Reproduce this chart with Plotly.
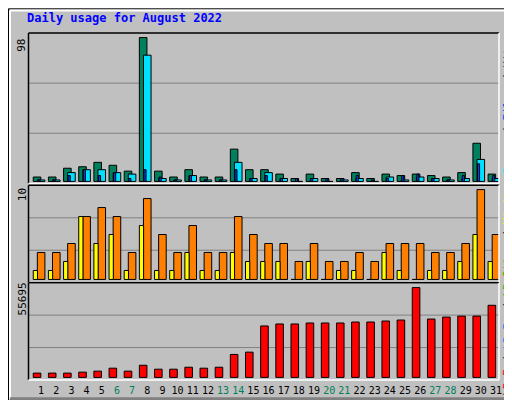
import plotly.graph_objects as go

days = list(range(1, 32))
weekend = [6, 7, 13, 14, 20, 21, 27, 28]
hits = [3,3,9,10,13,11,7,98,7,3,8,3,3,22,8,8,5,2,5,2,2,6,2,5,4,5,4,3,6,26,5]
pages = [1,1,6,8,8,6,5,86,2,1,4,1,1,13,2,6,2,0,2,0,1,2,0,3,1,3,2,1,2,15,2]
files = [1,1,4,8,4,6,2,8,3,1,4,1,1,8,2,4,2,2,2,2,2,4,1,2,4,5,2,1,4,12,4]
sites = [3,3,4,7,8,7,3,9,5,3,6,3,3,7,5,4,4,2,4,2,2,3,2,4,4,4,3,3,4,10,5]
visits = [1,1,2,7,4,5,1,6,1,1,3,1,1,3,2,2,2,0,2,0,1,1,0,3,1,0,1,1,2,5,2]
kbytes = [2640,2640,2640,3250,3860,5690,3860,7520,5080,5080,6300,5690,6300,14230,15650,
          31910,33130,33130,33740,33740,33740,34350,34350,34960,35570,55695,36180,37400,38010,38010,44720]

W, H = 512, 400
L, R, T, B = 21, 21, 25, 22
PW, PH = W - L - R, H - T - B
def xp(px): return (px - L) / PW
def yp(py): return (H - B - py) / PH

C_HITS, C_FILES, C_PAGES = "#00805C", "#0040FF", "#00E0FF"
C_SITES, C_VISITS, C_KB = "#FF8000", "#FFFF00", "#FF0000"
FONT = "DejaVu Sans Mono"

fig = go.Figure()
line = dict(color="black", width=1)
def bar(y, color, off, wid, xa, ya):
    fig.add_trace(go.Bar(x=days, y=y, marker=dict(color=color, line=line),
                         offset=off, width=wid, xaxis=xa, yaxis=ya, showlegend=False))

bar(hits, C_HITS, -0.52, 0.5, "x", "y")
bar(pages, C_PAGES, -0.25, 0.5, "x", "y")
bar(files, C_FILES, -0.22, 0.14, "x", "y")
bar(sites, C_SITES, -0.25, 0.5, "x2", "y2")
bar(visits, C_VISITS, -0.52, 0.28, "x2", "y2")
bar(kbytes, C_KB, -0.52, 0.5, "x3", "y3")

ticktext = [f'<span style="color:{C_HITS}">{d}</span>' if d in weekend else str(d) for d in days]
xcommon = dict(range=[0.2, 31.2], showgrid=False, zeroline=False, showline=False)
dom = {"": [yp(178), yp(25)], "2": [yp(279), yp(180)], "3": [yp(378), yp(279)]}
fig.update_layout(
    width=W, height=H, margin=dict(l=L, r=R, t=T, b=B),
    paper_bgcolor="#C0C0C0", plot_bgcolor="#C0C0C0", barmode="overlay",
    font=dict(family=FONT, size=11, color="black"),
    xaxis=dict(**xcommon, anchor="y", showticklabels=False),
    xaxis2=dict(**xcommon, anchor="y2", showticklabels=False, matches="x"),
    xaxis3=dict(**xcommon, anchor="y3", tickvals=days, ticktext=ticktext, ticks="",
                tickangle=0, ticklabelstandoff=3, tickfont=dict(family=FONT, size=10)),
    yaxis=dict(domain=dom[""], range=[-1.34, 101.1], showticklabels=False, showgrid=False, zeroline=False),
    yaxis2=dict(domain=dom["2"], range=[-0.36, 10.47], showticklabels=False, showgrid=False, zeroline=False),
    yaxis3=dict(domain=dom["3"], range=[-1626, 58744], showticklabels=False, showgrid=False, zeroline=False),
)

shapes = []
shapes.append(dict(type="rect", xref="paper", yref="paper", x0=xp(0.5), x1=xp(511.5), y0=yp(399.5), y1=yp(0.5),
                   line=dict(color="black", width=1), layer="below"))
shapes.append(dict(type="line", xref="paper", yref="paper", x0=xp(2), x1=xp(2), y0=yp(397), y1=yp(2), line=dict(color="white", width=2), layer="below"))
shapes.append(dict(type="line", xref="paper", yref="paper", x0=xp(2), x1=xp(509), y0=yp(2), y1=yp(2), line=dict(color="white", width=2), layer="below"))
shapes.append(dict(type="line", xref="paper", yref="paper", x0=xp(509), x1=xp(509), y0=yp(397), y1=yp(2), line=dict(color="#808080", width=3), layer="below"))
shapes.append(dict(type="line", xref="paper", yref="paper", x0=xp(2), x1=xp(509), y0=yp(397), y1=yp(397), line=dict(color="#808080", width=3), layer="below"))
for ax, (top, bot) in {"": (25, 178), "2": (180, 279), "3": (279, 378)}.items():
    for f in (1/3, 2/3):
        shapes.append(dict(type="line", xref="paper", yref=f"y{ax} domain", x0=0, x1=1, y0=f, y1=f,
                           line=dict(color="#808080", width=1), layer="below"))
    shapes.append(dict(type="line", xref="paper", yref="paper", x0=xp(20.5), x1=xp(491), y0=yp(top), y1=yp(top), line=dict(color="black", width=1.5)))
    shapes.append(dict(type="line", xref="paper", yref="paper", x0=xp(20.5), x1=xp(20.5), y0=yp(bot), y1=yp(top), line=dict(color="black", width=1.5)))
    shapes.append(dict(type="line", xref="paper", yref="paper", x0=xp(20.5), x1=xp(491), y0=yp(bot), y1=yp(bot), line=dict(color="white", width=1.5)))
    shapes.append(dict(type="line", xref="paper", yref="paper", x0=xp(491), x1=xp(491), y0=yp(bot), y1=yp(top), line=dict(color="white", width=1.5)))
fig.update_layout(shapes=shapes)

def ann(text, px, py, xanchor, yanchor, angle=0, **kw):
    fig.add_annotation(text=text, x=xp(px), y=yp(py), xref="paper", yref="paper", showarrow=False,
                       xanchor=xanchor, yanchor=yanchor, textangle=angle, borderpad=0, **kw)

ann("<b>Daily usage for August 2022</b>", 18, 2, "left", "top", font=dict(color="#0000FF", size=12, family=FONT))
ann(str(max(hits)), 14, 38, "center", "middle", -90, font=dict(size=11))
ann(str(max(sites)), 14, 190, "center", "middle", -90, font=dict(size=11))
ann(str(max(kbytes)), 14, 296, "center", "middle", -90, font=dict(size=11))
ann(f'<span style="color:{C_PAGES}">Pages</span> / <span style="color:{C_FILES}">Files</span> / <span style="color:{C_HITS}">Hits</span>',
    500, 101, "center", "middle", -90)
ann(f'<span style="color:{C_SITES}">Sites</span> / <span style="color:{C_VISITS}">Visits</span>',
    500, 227, "center", "middle", -90)
ann(f'<span style="color:{C_KB}">kB F</span> / <span style="color:#0080FF">kB In</span> / <span style="color:#00C000">kB Out</span>',
    500, 324, "center", "middle", -90)

fig.write_html("out.html")
